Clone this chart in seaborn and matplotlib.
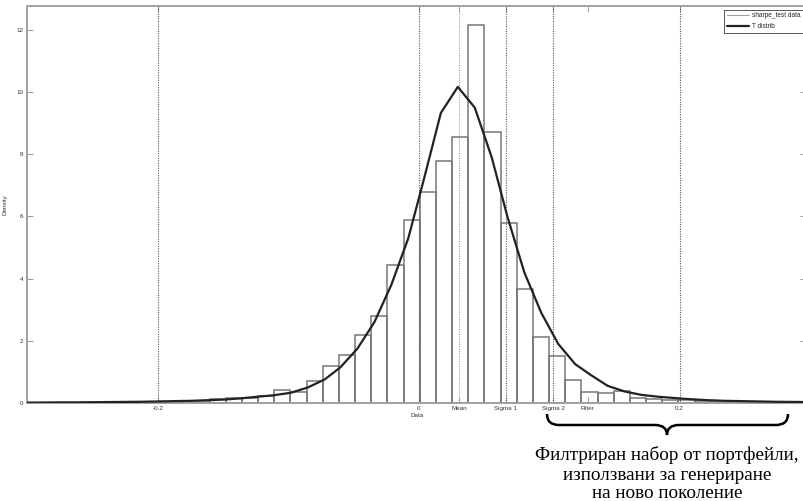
import numpy as np
import pandas as pd
import matplotlib
matplotlib.use("Agg")
import matplotlib.pyplot as plt
from matplotlib.lines import Line2D
from matplotlib.path import Path
from matplotlib.patches import PathPatch
import seaborn as sns

# Histogram of the Sharpe-ratio test data (density per bin)
BIN_WIDTH = 0.0124
FIRST_EDGE = -0.2472
bin_heights = [0.01, 0.02, 0.02, 0.03, 0.03, 0.05, 0.07, 0.12, 0.15, 0.16,
               0.23, 0.42, 0.36, 0.71, 1.19, 1.53, 2.19, 2.81, 4.44, 5.88,
               6.79, 7.78, 8.56, 12.15, 8.72, 5.80, 3.66, 2.13, 1.50, 0.74,
               0.36, 0.31, 0.40, 0.17, 0.13, 0.10, 0.10, 0.08, 0.05, 0.04,
               0.04, 0.03, 0.03, 0.02]

# Fitted t location-scale density
t_x = [-0.300, -0.290, -0.277, -0.264, -0.252, -0.239, -0.226, -0.213, -0.200,
       -0.188, -0.175, -0.162, -0.149, -0.136, -0.124, -0.111, -0.098, -0.085,
       -0.072, -0.060, -0.047, -0.034, -0.021, -0.008, 0.004, 0.017, 0.030,
       0.043, 0.056, 0.068, 0.081, 0.094, 0.107, 0.120, 0.132, 0.145, 0.158,
       0.171, 0.184, 0.196, 0.209, 0.222, 0.235, 0.248, 0.260, 0.273, 0.286,
       0.299]
t_y = [0.012, 0.015, 0.02, 0.02, 0.025, 0.03, 0.035, 0.04, 0.05,
       0.06, 0.07, 0.09, 0.11, 0.15, 0.20, 0.25, 0.33, 0.50,
       0.76, 1.15, 1.75, 2.60, 3.80, 5.30, 7.20, 9.33, 10.17,
       9.50, 7.90, 6.00, 4.20, 2.90, 1.90, 1.25, 0.90, 0.55, 0.37,
       0.26, 0.20, 0.16, 0.12, 0.09, 0.07, 0.06, 0.05, 0.04, 0.035,
       0.03]

# Reference markers on the x axis
tick_pos = [-0.2, 0.0, 0.0309, 0.0668, 0.1030, 0.1295, 0.2]
tick_labels = ["-0.2", "0", "Mean", "Sigma 1", "Sigma 2", "Filter", "0.2"]
grid_pos = [-0.2, 0.0, 0.0309, 0.0668, 0.1030, 0.2]
y_ticks = [0, 2, 4, 6, 8, 10, 12]

legend_labels = ["sharpe_test data", "T distrib"]
note_lines = ["Филтриран набор от портфейли,",
              "използвани за генериране",
              "на ново поколение"]

sns.set_theme(style="white")
plt.rcParams["font.family"] = ["Liberation Sans", "DejaVu Sans"]

W, H = 804, 501
fig = plt.figure(figsize=(W / 100, H / 100), dpi=100)
left_px, right_px, top_px, bot_px = 27.5, 806, 6, 403
ax = fig.add_axes([left_px / W, 1 - bot_px / H,
                   (right_px - left_px) / W, (bot_px - top_px) / H])

edges = [float(e) for e in FIRST_EDGE + BIN_WIDTH * np.arange(len(bin_heights) + 1)]
hist_df = pd.DataFrame({"center": [(a + b) / 2 for a, b in zip(edges[:-1], edges[1:])],
                        "height": bin_heights})
sns.histplot(data=hist_df, x="center", weights="height", bins=edges,
             stat="count", fill=False, element="bars", color="#777777",
             linewidth=1.1, ax=ax)

for gx in grid_pos:
    col = "#9a9a9a" if gx == grid_pos[2] else "#555555"
    ax.axvline(gx, color=col, linestyle=(0, (1, 1.2)), linewidth=0.8, zorder=1)

sns.lineplot(x=t_x, y=t_y, color="#222222", linewidth=1.6, ax=ax, zorder=5)

ax.set_xlim(-0.3, 0.297)
ax.set_ylim(0, 12.77)
ax.set_xticks(tick_pos)
ax.set_xticklabels(tick_labels)
ax.set_yticks(y_ticks)
ax.set_yticklabels([str(v) for v in y_ticks])
ax.tick_params(direction="in", length=4, width=0.6, color="#888888",
               labelsize=4.5, labelcolor="#333333", top=True, right=True,
               bottom=True, left=True)
ax.tick_params(axis="y", pad=3)
ax.tick_params(axis="x", pad=2.5)
ax.set_xlabel("Data", fontsize=4.5, color="#333333", labelpad=1)
ax.set_ylabel("Density", fontsize=4.5, color="#333333", labelpad=6)
for sp in ax.spines.values():
    sp.set_color("#a0a0a0")
    sp.set_linewidth(1.4)

handles = [Line2D([], [], color="#a0a0a0", linewidth=0.8),
           Line2D([], [], color="#222222", linewidth=1.6)]
leg = ax.legend(handles, legend_labels, loc="upper left",
                bbox_to_anchor=(724 / W, 1 - 9.5 / H),
                bbox_transform=fig.transFigure, fontsize=4.7,
                frameon=True, fancybox=False, edgecolor="#555555",
                framealpha=1, borderaxespad=0, handlelength=3.4,
                handletextpad=0.4, borderpad=0.45, labelspacing=0.6)
leg.get_frame().set_linewidth(0.7)


def fxy(x, y):
    return (x / W, 1 - y / H)


# Curly brace under the right tail
verts = [fxy(547, 414), fxy(547, 425), fxy(559, 425),
         fxy(655, 425),
         fxy(667, 425), fxy(667, 435),
         fxy(667, 425), fxy(679, 425),
         fxy(776, 425),
         fxy(788, 425), fxy(788, 414)]
codes = [Path.MOVETO, Path.CURVE3, Path.CURVE3,
         Path.LINETO,
         Path.CURVE3, Path.CURVE3,
         Path.CURVE3, Path.CURVE3,
         Path.LINETO,
         Path.CURVE3, Path.CURVE3]
fig.add_artist(PathPatch(Path(verts, codes), transform=fig.transFigure,
                         facecolor="none", edgecolor="black", linewidth=1.8))

for line, base in zip(note_lines, [460.5, 480, 498.5]):
    fig.text(667 / W, 1 - base / H, line, ha="center", va="baseline",
             fontsize=13.8, family=["Liberation Serif", "DejaVu Serif"],
             color="black")

fig.savefig("out.png", dpi=100)
